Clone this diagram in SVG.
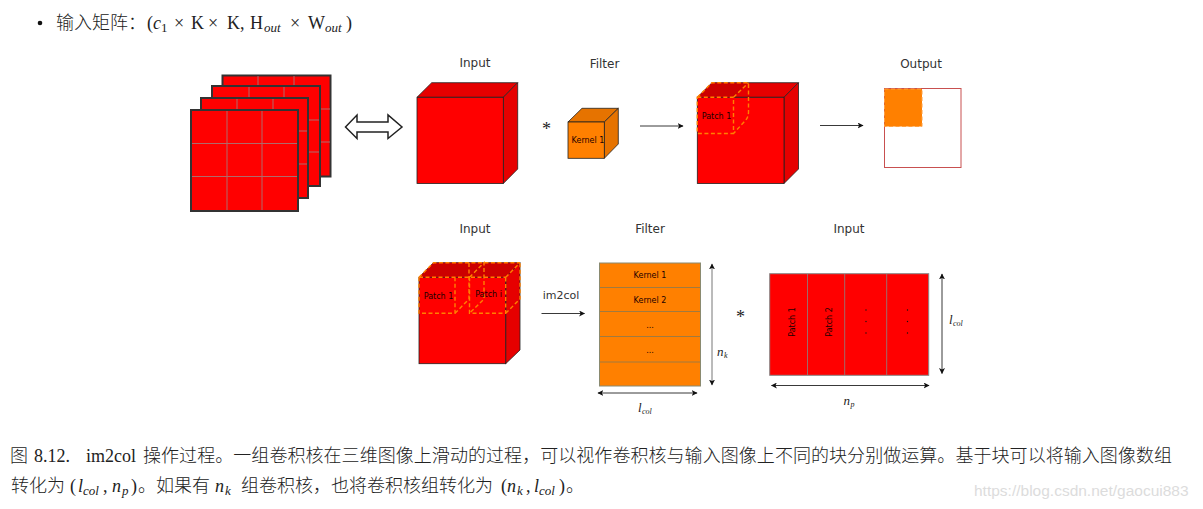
<svg xmlns="http://www.w3.org/2000/svg" width="1203" height="509" viewBox="0 0 1203 509">
<style>
.t{font-family:"Liberation Serif","Noto Sans CJK SC",serif;font-size:18px;fill:#222}
.c{font-family:"Noto Sans CJK SC",sans-serif;font-size:18px;font-weight:300;fill:#222}
.i{font-style:italic}
.s{font-size:13px}
.l{font-family:"DejaVu Sans",sans-serif;font-size:12px;fill:#333;text-anchor:middle}
.k{font-family:"DejaVu Sans",sans-serif;font-size:8px;fill:#200;text-anchor:middle}
.m{font-family:"Liberation Serif",serif;font-style:italic;fill:#222}
.m2{font-size:13px}.m3{font-size:8px}
.sheet{fill:#f00;stroke:#333;stroke-width:2}
.grid{stroke:#b06a6a;stroke-width:1;fill:none}
.front{fill:#f00;stroke:#222;stroke-width:.8}
.top{fill:#e60000;stroke:#222;stroke-width:.8}
.side{fill:#e60000;stroke:#222;stroke-width:.8}
.dash{fill:none;stroke:#ff8000;stroke-width:1.400;stroke-dasharray:4 2.500}
.ln{stroke:#222;stroke-width:.9;fill:none}
.gl{stroke:#a07a40;stroke-width:1;fill:none}
.gr{stroke:#a06a6a;stroke-width:1;fill:none}
.oa{stroke:#777;stroke-width:1}
</style>
<defs>
<marker id="ah" viewBox="0 0 10 10" refX="9" refY="5" markerWidth="6" markerHeight="6" markerUnits="userSpaceOnUse" orient="auto-start-reverse"><path d="M0 0L10 5L0 10L2.500 5Z" fill="#111"/></marker>
</defs>
<rect width="1203" height="509" fill="#fff"/>

<g id="heading">
<circle cx="40" cy="23" r="2.300" fill="#111"/>
<text class="c" x="56" y="29">输入矩阵：</text>
<text class="t" x="147" y="29">(</text>
<text class="t i" x="153" y="29">c</text>
<text class="t s" x="161" y="32">1</text>
<text class="t" x="174" y="29">×</text>
<text class="t" x="191" y="29">K</text>
<text class="t" x="208" y="29">×</text>
<text class="t" x="227" y="29">K,</text>
<text class="t" x="250" y="29">H</text>
<text class="t i s" x="264" y="32">out</text>
<text class="t" x="290" y="29">×</text>
<text class="t" x="308" y="29">W</text>
<text class="t i s" x="325" y="32">out</text>
<text class="t" x="346" y="29">)</text>
</g>

<g id="stack">
<rect class="sheet" x="222.500" y="75.500" width="108" height="101"/>
<path class="grid" d="M258 76V98M294 76V86M321 109H330M321 142H330"/>
<rect class="sheet" x="212" y="86" width="108" height="100"/>
<path class="grid" d="M249 87V98M284 87V98M309 120H319M309 152H319"/>
<rect class="sheet" x="201" y="98" width="107" height="100"/>
<path class="grid" d="M237 99V110M273 99V110M299 131H307M299 164H307"/>
<rect class="sheet" x="191" y="110" width="107" height="101"/>
<path class="grid" d="M227 111V210M262 111V210M192 143.500H297M192 176.500H297"/>
</g>

<g id="biarrow">
<path d="M345.500 127L357 115V122H388V115L402 127L388 138.500V132H357V138.500Z" fill="#fff" stroke="#222" stroke-width="1.500"/>
</g>

<g id="cube-input">
<text class="l" x="475" y="67">Input</text>
<path class="top" d="M417 97.300L431.700 82.700H517.700L503.300 97.300Z"/>
<path class="side" d="M503.300 97.300L517.700 82.700V169L503.300 183.500Z"/>
<rect class="front" x="417" y="97.300" width="86.300" height="86.200"/>
</g>

<g id="star1"><text class="t" x="546.500" y="135" text-anchor="middle">*</text></g>

<g id="kernel-cube">
<text class="l" x="604.500" y="68">Filter</text>
<path d="M568 122L582 108.300H618.300L604.300 122Z" fill="#e67300" stroke="#222" stroke-width=".8"/>
<path d="M604.300 122L618.300 108.300V144L604.300 158.300Z" fill="#e67300" stroke="#222" stroke-width=".8"/>
<rect x="568" y="122" width="36.300" height="36.300" fill="#ff8000" stroke="#222" stroke-width=".8"/>
<text class="k" x="588" y="142.500">Kernel 1</text>
</g>

<g id="cube-patch">
<path class="top" d="M697.300 97.300L712 82.700H798.500L784 97.300Z"/>
<path class="side" d="M784 97.300L798.500 82.700V169L784 183.500Z"/>
<rect class="front" x="697.300" y="97.300" width="86.700" height="86.200"/>
<path d="M697.300 97.300L712 82.700H748L733.500 97.300Z" fill="#cc0000"/>
<path class="dash" d="M697.300 97.300H733.500V133.500H697.300ZM697.300 97.300L712 82.700H748.500V112Q748.500 118 744 122L733.500 133.500M733.500 97.300L748.500 82.700"/>
<text class="k" x="716.500" y="118.500">Patch 1</text>
</g>

<g id="output">
<text class="l" x="921" y="68">Output</text>
<rect x="884.500" y="88.500" width="76.500" height="79" fill="#fff" stroke="#c85050" stroke-width="1"/>
<rect x="884.500" y="89" width="37.500" height="37.500" fill="#ff8000" stroke="#ffa040" stroke-width="1" stroke-dasharray="4 2.500"/>
</g>

<g id="cube-patches">
<text class="l" x="475" y="233">Input</text>
<path class="top" d="M419 277.300L433.500 262.700H520L505.700 277.300Z"/>
<path class="side" d="M505.700 277.300L520 262.700V350L505.700 363.700Z"/>
<rect class="front" x="419" y="277.300" width="86.700" height="86.400"/>
<path d="M419 277.300L433.500 262.700H520L505.700 277.300Z" fill="#cc0000"/>
<path class="dash" d="M419 277.300H505.700M419 277.300V313.300H455V277.300M469.500 277.300V313.300H505.700V277.300M419 277.300L433.500 262.700H520M455 313.300L469 299V263M505.700 313.300L520 299V263M469.500 277.300L484 262.700V299L469.500 313.300M505.700 277.300L520 262.700"/>
<text class="k" x="438.500" y="298.500">Patch 1</text>
<text class="k" x="488.500" y="297">Patch i</text>
</g>

<g id="im2col-label"><text class="l" x="561" y="299" style="font-size:11px">im2col</text></g>

<g id="filter-table">
<text class="l" x="650" y="233">Filter</text>
<rect x="599.500" y="263" width="101" height="123" fill="#ff8000" stroke="#8a8a70" stroke-width="1"/>
<path class="gl" d="M600 287.500H700M600 311.500H700M600 336.500H700M600 362H700"/>
<text class="k" x="650" y="278">Kernel 1</text>
<text class="k" x="650" y="302.700">Kernel 2</text>
<text class="k" x="650" y="328">...</text>
<text class="k" x="650" y="353">...</text>
<text class="m m2" x="638" y="412">l</text><text class="m m3" x="642" y="414">col</text>
<text class="m m2" x="717" y="356">n</text><text class="m m3" x="724" y="358">k</text>
</g>

<g id="star2"><text class="t" x="740.500" y="323" text-anchor="middle">*</text></g>

<g id="input-table">
<text class="l" x="849" y="233">Input</text>
<rect x="769.700" y="273.700" width="159" height="101.600" fill="#f00" stroke="#888" stroke-width="1"/>
<path class="gr" d="M807.500 274V375M844.700 274V375M886.700 274V375"/>
<text class="k" transform="translate(794.500 322) rotate(-90)">Patch 1</text>
<text class="k" transform="translate(831.500 322) rotate(-90)">Patch 2</text>
<g fill="#111"><circle cx="866" cy="310" r=".7"/><circle cx="866" cy="321.500" r=".7"/><circle cx="866" cy="333" r=".7"/><circle cx="907.500" cy="310" r=".7"/><circle cx="907.500" cy="321.500" r=".7"/><circle cx="907.500" cy="333" r=".7"/></g>
<text class="m m2" x="949" y="324">l</text><text class="m m3" x="953" y="326">col</text>
<text class="m m2" x="843.500" y="405">n</text><text class="m m3" x="850.500" y="407">p</text>
</g>

<g id="connectors">
<path class="ln" d="M640 126H683" marker-end="url(#ah)"/>
<path class="ln" d="M820 125.500H863" marker-end="url(#ah)"/>
<path class="ln" d="M541.500 313.500H584.500" marker-end="url(#ah)"/>
<path class="ln" d="M598 393H697" marker-start="url(#ah)" marker-end="url(#ah)"/>
<path class="oa" d="M712 264V385" marker-start="url(#ah)" marker-end="url(#ah)"/>
<path class="ln" d="M942 274V373.500" marker-start="url(#ah)" marker-end="url(#ah)"/>
<path class="ln" d="M771.500 385.500H929" marker-start="url(#ah)" marker-end="url(#ah)"/>
</g>

<g id="caption">
<text class="c" x="10" y="462">图</text>
<text class="t" x="34" y="462">8.12.</text>
<text class="t" x="86" y="462">im2col</text>
<text class="c" x="143" y="462" textLength="1029">操作过程。一组卷积核在三维图像上滑动的过程，可以视作卷积核与输入图像上不同的块分别做运算。基于块可以将输入图像数组</text>
<text class="c" x="11" y="491.500">转化为</text>
<text class="t" x="70" y="491.500">(</text><text class="t i" x="78" y="491.500">l</text><text class="t i s" x="83" y="494.500">col</text><text class="t" x="103" y="491.500">,</text><text class="t i" x="112" y="491.500">n</text><text class="t i s" x="122" y="494.500">p</text><text class="t" x="131" y="491.500">)</text>
<text class="c" x="138" y="491.500">。</text>
<text class="c" x="156" y="491.500">如果有</text>
<text class="t i" x="215" y="491.500">n</text><text class="t i s" x="225" y="494.500">k</text>
<text class="c" x="241" y="491.500">组卷积核，也将卷积核组转化为</text>
<text class="t" x="501" y="491.500">(</text><text class="t i" x="507" y="491.500">n</text><text class="t i s" x="517" y="494.500">k</text><text class="t" x="526" y="491.500">,</text><text class="t i" x="534" y="491.500">l</text><text class="t i s" x="539" y="494.500">col</text><text class="t" x="559" y="491.500">)</text>
<text class="c" x="566" y="491.500">。</text>
</g>

<g id="watermark"><text x="974" y="496" style="font-family:'Liberation Sans',sans-serif;font-size:15.500px;fill:#dcdcdc">https://blog.csdn.net/gaocui883</text></g>
</svg>
